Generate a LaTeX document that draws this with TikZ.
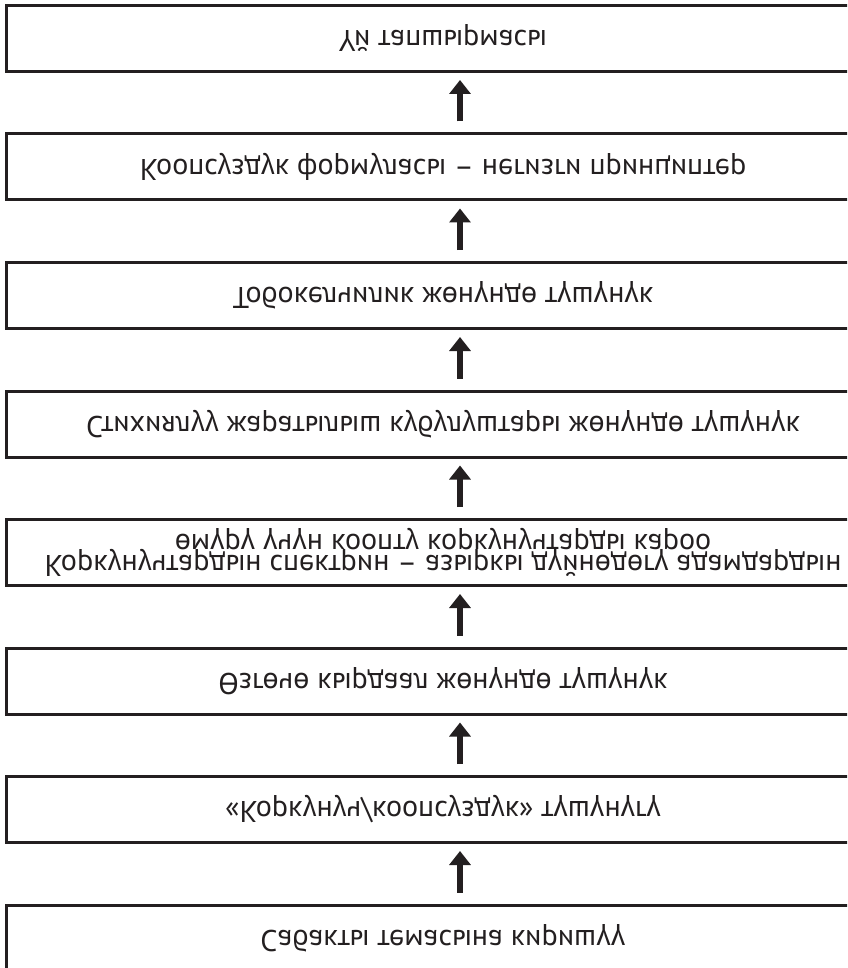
\documentclass[tikz,border=0pt]{standalone}
\usepackage{fontspec}
\setmainfont{PT Sans}
\usepackage{graphicx}
\usetikzlibrary{arrows.meta}
\definecolor{ink}{HTML}{231F20}
\tikzset{
  box/.style={draw=ink, line width=3pt, minimum width=908pt, minimum height=66pt,
    inner sep=0pt, font=\fontsize{30}{21}\selectfont, text=ink, align=center},
  arr/.style={draw=ink, line width=6pt, -{Triangle[width=21pt,length=14pt]},
    shorten >=7pt, shorten <=11pt},
}
\newcommand{\flipt}[1]{\scalebox{1}[-1]{#1}\hspace{34pt}}
\begin{document}
\begin{tikzpicture}[x=1pt,y=1pt]
\useasboundingbox (0,0) rectangle (847,-968);
\fill[white] (0,0) rectangle (847,-968);
\clip (0,0) rectangle (847,-968);
\node[box] (b0) at (460,-38.5) {\flipt{Үй тапшырмасы}};
\node[box] (b1) at (460,-167) {\flipt{Коопсуздук формуласы – негизги принциптер}};
\node[box] (b2) at (460,-295.5) {\flipt{Тобокелчилик жөнүндө түшүнүк}};
\node[box] (b3) at (460,-424) {\flipt{Стихиялуу жаратылыш кубулуштары жөнүндө түшүнүк}};
\node[box] (b4) at (460,-552.5) {\raisebox{0.5pt}{\flipt{\begin{tabular}{@{}c@{}}Коркунучтардын спектрин – азыркы дүйнөдөгү адамдардын\\өмүрү үчүн коопту коркунучтарды кароо\end{tabular}}}};
\node[box] (b5) at (460,-681) {\flipt{Өзгөчө кырдаал жөнүндө түшүнүк}};
\node[box] (b6) at (460,-809.5) {\flipt{«Коркунуч/коопсуздук» түшүнүгү}};
\node[box] (b7) at (460,-938) {\flipt{Сабакты темасына киришүү}};
\draw[arr] (b1.north) -- (b0.south);
\draw[arr] (b2.north) -- (b1.south);
\draw[arr] (b3.north) -- (b2.south);
\draw[arr] (b4.north) -- (b3.south);
\draw[arr] (b5.north) -- (b4.south);
\draw[arr] (b6.north) -- (b5.south);
\draw[arr] (b7.north) -- (b6.south);
\end{tikzpicture}
\end{document}
